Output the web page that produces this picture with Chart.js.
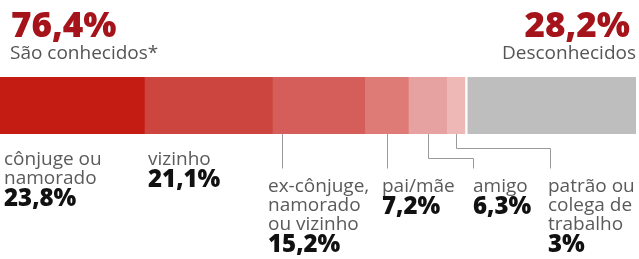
<!DOCTYPE html>
<html>
<head>
<meta charset="utf-8">
<script src="https://cdn.jsdelivr.net/npm/chart.js@4/dist/chart.umd.min.js"></script>
<style>
  body { margin: 0; background: #fff; }
  #wrap { width: 639px; height: 259px; position: relative; }
</style>
</head>
<body>
<div id="wrap"><canvas id="myChart"></canvas></div>
<script>
// data
var categories = ['cônjuge ou namorado', 'vizinho', 'ex-cônjuge, namorado ou vizinho', 'pai/mãe', 'amigo', 'patrão ou colega de trabalho'];
var categoryLines = [['cônjuge ou', 'namorado'], ['vizinho'], ['ex-cônjuge,', 'namorado', 'ou vizinho'], ['pai/mãe'], ['amigo'], ['patrão ou', 'colega de', 'trabalho']];
var values = [23.8, 21.1, 15.2, 7.2, 6.3, 3];
var knownLabel = 'São conhecidos*';
var knownTotal = 76.4;
var unknownLabel = 'Desconhecidos';
var unknownValue = 28.2;

var colors = ['#c41b12', '#cc453e', '#d65e5a', '#df7b77', '#e6a2a1', '#edb8b6'];
var grey = '#bebebe';

function pct(v) {
    return v.toLocaleString('pt-BR') + '%';
}

// where the labels sit (layout only)
var labelX = [4, 148, 268, 382, 473, 548];
var labelY = [165, 165, 192, 192, 192, 192];

var datasets = [];
for (var i = 0; i < values.length; i++) {
    datasets.push({
        label: categories[i],
        data: [values[i]],
        backgroundColor: colors[i],
        borderWidth: 0
    });
}
datasets.push({
    label: unknownLabel,
    data: [unknownValue],
    backgroundColor: grey,
    borderColor: '#ffffff',
    borderWidth: {left: 3, top: 0, right: 0, bottom: 0},
    borderSkipped: false
});

var labelsPlugin = {
    id: 'labelsPlugin',
    afterDraw: function(chart) {
        var c = chart.ctx;
        var area = chart.chartArea;
        c.save();

        // headline numbers
        c.fillStyle = '#a5141a';
        c.font = '800 35px "Open Sans"';
        c.textAlign = 'left';
        c.textBaseline = 'alphabetic';
        c.fillText(pct(knownTotal), 11, 37);
        c.textAlign = 'right';
        c.fillText(pct(unknownValue), 630, 37);

        c.fillStyle = '#555555';
        c.font = '19px "Open Sans"';
        c.textAlign = 'left';
        c.fillText(knownLabel, 10, 59);
        c.textAlign = 'right';
        c.fillText(unknownLabel, 636, 59);

        // leader lines
        var bars = [];
        for (var i = 0; i < values.length; i++) {
            var el = chart.getDatasetMeta(i).data[0];
            bars.push({start: Math.min(el.base, el.x), end: Math.max(el.base, el.x)});
        }
        var top = area.bottom;
        c.strokeStyle = '#9a9a9a';
        c.lineWidth = 1;
        function leader(pts) {
            c.beginPath();
            c.moveTo(Math.round(pts[0][0]) + 0.5, pts[0][1]);
            for (var k = 1; k < pts.length; k++) {
                c.lineTo(Math.round(pts[k][0]) + 0.5, pts[k][1] + 0.5);
            }
            c.stroke();
        }
        var mid3 = (bars[3].start + bars[3].end) / 2;
        var mid4 = (bars[4].start + bars[4].end) / 2;
        var mid5 = (bars[5].start + bars[5].end) / 2;
        leader([[bars[2].start + 10, top], [bars[2].start + 10, 168]]);
        leader([[mid3, top], [mid3, 168]]);
        leader([[mid4, top], [mid4, 158], [labelX[4], 158], [labelX[4], 168]]);
        leader([[mid5, top], [mid5, 148], [labelX[5] + 2, 148], [labelX[5] + 2, 168]]);

        // category labels and values
        c.textAlign = 'left';
        for (var j = 0; j < categoryLines.length; j++) {
            var y = labelY[j];
            c.fillStyle = '#5a5a5a';
            c.font = '19px "Open Sans"';
            for (var n = 0; n < categoryLines[j].length; n++) {
                c.fillText(categoryLines[j][n], labelX[j], y);
                if (n < categoryLines[j].length - 1) y += 19;
            }
            c.fillStyle = '#111111';
            c.font = '800 24px "Open Sans"';
            c.fillText(pct(values[j]), labelX[j], y + 22);
        }
        c.restore();
    }
};

var ctx = document.getElementById('myChart').getContext('2d');
var total = 0;
for (var t = 0; t < values.length; t++) total += values[t];
total += unknownValue;

var myChart = new Chart(ctx, {
    type: 'bar',
    data: {
        labels: ['vítimas'],
        datasets: datasets
    },
    options: {
        indexAxis: 'y',
        responsive: true,
        maintainAspectRatio: false,
        animation: false,
        layout: {
            padding: {top: 77, bottom: 125, left: 0, right: 3}
        },
        datasets: {
            bar: {barPercentage: 1, categoryPercentage: 1}
        },
        scales: {
            x: {stacked: true, display: false, min: 0, max: total},
            y: {stacked: true, display: false}
        },
        plugins: {
            legend: {display: false},
            tooltip: {enabled: false}
        }
    },
    plugins: [labelsPlugin]
});
</script>
</body>
</html>
